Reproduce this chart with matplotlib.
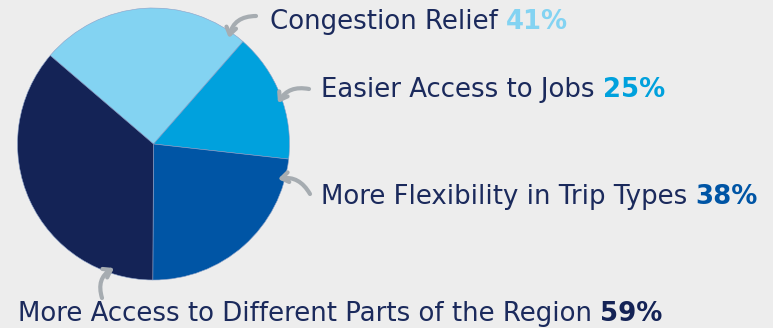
import matplotlib
matplotlib.use('Agg')
import matplotlib.pyplot as plt

labels = ['Congestion Relief', 'Easier Access to Jobs',
          'More Flexibility in Trip Types',
          'More Access to Different Parts of the Region']
values = [41, 25, 38, 59]
colors = ['#83d3f2', '#00a1dd', '#0055a5', '#142356']

bg = '#ededed'
text_color = '#1b2a5c'
arrow_color = '#a6acb1'
plt.rcParams['font.family'] = ['DejaVu Sans']

W, H = 773, 328
fig = plt.figure(figsize=(W / 100, H / 100), dpi=100, facecolor=bg)
ax = fig.add_axes([0, 0, 1, 1])
ax.set_facecolor(bg)

# Pie in pixel coordinates (y up)
ax.pie(values, colors=colors, startangle=139.4, counterclock=False,
       center=(153.5, H - 144), radius=136,
       wedgeprops=dict(linewidth=0.4, edgecolor='#8aa0c8'))
ax.set_xlim(0, W)
ax.set_ylim(0, H)
ax.set_aspect('equal')
ax.axis('off')

# label anchor (x, baseline y in pixels from top)
label_pos = [(270, 29), (321, 97), (321, 204), (18, 321)]
# arrow tail -> head (pixels from top), curvature
arrows = [((256, 16), (229, 38), 0.4),
          ((309, 89), (278, 103), 0.35),
          ((310, 194), (278, 179), 0.35),
          ((102, 298), (114, 268), -0.4)]

fs = 18.7
for lab, val, col, (x, y) in zip(labels, values, colors, label_pos):
    t = ax.text(x, H - y, lab + ' ', fontsize=fs, color=text_color,
                ha='left', va='baseline')
    ax.annotate(f'{val}%', xy=(1, 0), xycoords=t, fontsize=fs,
                fontweight='bold', color=col, ha='left', va='bottom')

for (tx, ty), (hx, hy), rad in arrows:
    ax.annotate('', xy=(hx, H - hy), xytext=(tx, H - ty),
                arrowprops=dict(arrowstyle='->,head_length=0.5,head_width=0.35',
                                connectionstyle=f'arc3,rad={rad}',
                                color=arrow_color, lw=3, capstyle='round',
                                shrinkA=0, shrinkB=0))

plt.savefig('out.png', dpi=100, facecolor=bg)
